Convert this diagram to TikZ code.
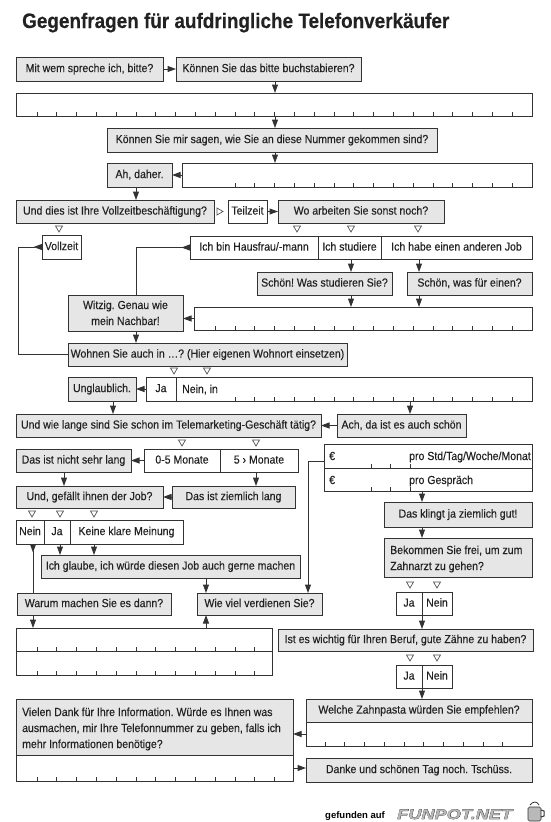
\documentclass[tikz,border=0pt]{standalone}
\usepackage{fontspec}
\setmainfont{Liberation Sans}[FakeStretch=0.9,FakeBold=0.3]
\newfontfamily\footfont{Liberation Sans}
\newfontfamily\funfont{Liberation Sans}[FakeStretch=1.3]
\newfontfamily\funfontB{Liberation Sans}[FakeStretch=1.3,FakeBold=2.2]
\frenchspacing
\usetikzlibrary{arrows.meta,calc}
\definecolor{lc}{HTML}{333333}
\definecolor{gf}{HTML}{E6E6E6}
\definecolor{tc}{HTML}{222222}
\tikzset{
 base/.style={draw=lc, line width=1pt, inner sep=0pt, outer sep=0pt, text=tc, font=\fontsize{11.7}{15.5}\selectfont, text height=8.4pt, text depth=2.2pt, anchor=center},
 gb/.style={base, fill=gf},
 wb/.style={base, fill=white},
 ib/.style={base, fill=white},
 txt/.style={inner sep=0pt, text=tc, font=\fontsize{11.7}{15.5}\selectfont},
 arr/.style={draw=lc, line width=1pt, -{Triangle[length=8.5pt,width=6pt]}},
 rarr/.style={draw=lc, line width=1pt, {Triangle[reversed,length=8.5pt,width=6pt]}-},
 otri/.style={draw=lc!85, line width=0.7pt, fill=white},
 tick/.style={draw=lc, line width=0.8pt},
}
\newcommand\bx[7]{\node[#6, minimum width={(#4)-(#2)}, minimum height={(#5)-(#3)}] (#1) at ({((#2)+(#4))/2},{((#3)+(#5))/2}) {#7};}
\newcommand\tk[5]{\foreach \k in {#4,...,#5}{\draw[tick] ({#2+#3*\k},#1) -- ({#2+#3*\k},{#1-4});}}
\newcommand\dtri[2]{\draw[otri] ({#1-3.5},{#2-3}) -- ({#1+3.5},{#2-3}) -- ({#1},{#2+3}) -- cycle;}
\newcommand\rtri[2]{\draw[otri] ({#1-3},{#2-3.5}) -- ({#1-3},{#2+3.5}) -- ({#1+3},{#2}) -- cycle;}
\begin{document}
\begin{tikzpicture}[x=1pt,y=-1pt]
\useasboundingbox (0,0) rectangle (550,822);
\fill[white] (0,0) rectangle (550,822);
\foreach \c in {18,33,60,64,94,113,136,206,256,275,308,351,410,419,422} {\coordinate (c\c) at (\c,0);}

\node[anchor=base west, inner sep=0pt, text=tc, font=\bfseries\fontsize{21}{24}\selectfont] (title) at (22,28) {Gegenfragen für aufdringliche Telefonverkäufer};

\bx{A}{16}{57}{163}{81}{gb}{Mit wem spreche ich, bitte?}
\bx{B}{176}{57}{361}{81}{gb}{Können Sie das bitte buchstabieren?}
\bx{I1}{16}{93}{532}{116}{ib}{}
\bx{C}{107}{128}{437}{152}{gb}{Können Sie mir sagen, wie Sie an diese Nummer gekommen sind?}
\bx{D}{107}{163}{172}{187}{gb}{Ah, daher.}
\bx{I2}{182}{163}{532}{187}{ib}{}
\bx{E}{16}{200}{214}{223}{gb}{Und dies ist Ihre Vollzeitbeschäftigung?}
\bx{F}{228}{200}{267}{223}{wb}{Teilzeit}
\bx{G}{278}{200}{444}{223}{gb}{Wo arbeiten Sie sonst noch?}
\bx{H}{42}{235}{81}{259}{wb}{Vollzeit}
\bx{O1}{190}{236}{318}{259}{wb}{Ich bin Hausfrau/-mann}
\bx{O2}{318}{236}{381}{259}{wb}{Ich studiere}
\bx{O3}{381}{236}{532}{259}{wb}{Ich habe einen anderen Job}
\bx{S1}{257}{272}{392}{295}{gb}{Schön! Was studieren Sie?}
\bx{S2}{407}{272}{532}{295}{gb}{Schön, was für einen?}
\bx{W}{68}{295}{183}{331}{gb}{}
\node[txt, anchor=base] (Wt1) at (125.5,309) {Witzig. Genau wie};
\node[txt, anchor=base] (Wt2) at (125.5,325) {mein Nachbar!};
\bx{I3}{194}{307}{532}{330}{ib}{}
\bx{Wo}{68}{343}{347}{366}{gb}{Wohnen Sie auch in …? (Hier eigenen Wohnort einsetzen)}
\bx{U}{68}{377}{136}{401}{gb}{Unglaublich.}
\bx{J1}{146}{377}{176}{401}{wb}{Ja}
\bx{N1}{176}{377}{532}{401}{ib}{}
\node[txt, anchor=base west] (N1t) at (182,393) {Nein, in};
\bx{L}{16}{414}{321}{437}{gb}{Und wie lange sind Sie schon im Telemarketing-Geschäft tätig?}
\bx{Ach}{337}{414}{466}{437}{gb}{Ach, da ist es auch schön}
\bx{Ns}{16}{449}{131}{472}{gb}{Das ist nicht sehr lang}
\bx{M1}{144}{449}{220}{472}{wb}{0-5 Monate}
\bx{M2}{220}{449}{298}{472}{wb}{5 › Monate}
\bx{Gf}{16}{486}{163}{508}{gb}{Und, gefällt ihnen der Job?}
\bx{Zl}{172}{486}{295}{508}{gb}{Das ist ziemlich lang}
\bx{Nn}{16}{520}{44}{544}{wb}{Nein}
\bx{Jj}{44}{520}{70}{544}{wb}{Ja}
\bx{Kk}{70}{520}{183}{544}{wb}{Keine klare Meinung}
\bx{Ig}{41}{555}{300}{578}{gb}{Ich glaube, ich würde diesen Job auch gerne machen}
\bx{Wa}{17}{593}{171}{615}{gb}{Warum machen Sie es dann?}
\bx{Wv}{197}{593}{322}{615}{gb}{Wie viel verdienen Sie?}
\bx{E1}{324}{444}{532}{468}{wb}{}
\bx{E2}{324}{468}{532}{491}{wb}{}
\node[txt, anchor=base west] (E1a) at (329,460) {€};
\node[txt, anchor=base west] (E1b) at (409,460) {pro Std/Tag/Woche/Monat};
\node[txt, anchor=base west] (E2a) at (329,484) {€};
\node[txt, anchor=base west] (E2b) at (409,484) {pro Gespräch};
\bx{Kg}{384}{502}{532}{527}{gb}{Das klingt ja ziemlich gut!}
\bx{Bk}{384}{538}{532}{577}{gb}{}
\node[txt, anchor=base west] (Bk1) at (390,554) {Bekommen Sie frei, um zum};
\node[txt, anchor=base west] (Bk2) at (390,570) {Zahnarzt zu gehen?};
\bx{Ja2}{396}{592}{422}{615}{wb}{Ja}
\bx{Ne2}{422}{592}{452}{615}{wb}{Nein}
\bx{Iw}{278}{629}{533}{651}{gb}{Ist es wichtig für Ihren Beruf, gute Zähne zu haben?}
\bx{Ja3}{396}{665}{422}{688}{wb}{Ja}
\bx{Ne3}{422}{665}{452}{688}{wb}{Nein}
\bx{I5a}{16}{628}{272}{651}{ib}{}
\bx{I5b}{16}{651}{272}{675}{ib}{}
\bx{Zp}{306}{699}{532}{722}{gb}{Welche Zahnpasta würden Sie empfehlen?}
\bx{Zpi}{306}{722}{532}{746}{ib}{}
\bx{Vd}{16}{699}{293}{755}{gb}{}
\node[txt, anchor=base west] (Vd1) at (22,716) {Vielen Dank für Ihre Information. Würde es Ihnen was};
\node[txt, anchor=base west] (Vd2) at (22,732) {ausmachen, mir Ihre Telefonnummer zu geben, falls ich};
\node[txt, anchor=base west] (Vd3) at (22,748) {mehr Informationen benötige?};
\bx{Vdi}{16}{755}{293}{781}{ib}{}
\bx{Dk}{306}{758}{532}{782}{gb}{Danke und schönen Tag noch. Tschüss.}

% ticks
\tk{116}{37}{19.8}{0}{24}
\tk{187}{37}{19.8}{10}{24}
\tk{330}{37}{19.8}{9}{24}
\tk{401}{37}{19.8}{10}{24}
\tk{651}{37}{19.8}{0}{11}
\tk{675}{37}{19.8}{0}{11}
\tk{781}{37}{19.8}{0}{12}
\tk{746}{325}{19.75}{0}{9}
\tk{468}{371}{19.5}{0}{2}
\tk{491}{371}{19.5}{0}{2}

% open triangles
\dtri{59}{229}
\rtri{220}{211.5}
\dtri{297}{229}\dtri{351}{229}\dtri{418}{229}
\dtri{174}{371}\dtri{207}{371}
\dtri{182}{443}\dtri{256}{443}
\dtri{32}{514}\dtri{60}{514}\dtri{94}{514}
\dtri{410}{585}\dtri{437}{585}
\dtri{410}{658}\dtri{437}{658}

% connectors
\draw[arr] (A.east) -- (B.west);
\draw[arr] (B.south -| c275) -- (I1.north -| c275);
\draw[arr] (I1.south -| c275) -- (C.north -| c275);
\draw[arr] (C.south -| c275) -- (I2.north -| c275);
\draw[arr] (I2.west) -- (D.east);
\draw[arr] (D.south -| c136) -- (E.north -| c136);
\draw[arr] (F.east) -- (G.west);
\draw[rarr] (H.west) -- (H.west -| c18) -- (Wo.west -| c18) -- (Wo.west);
\draw[rarr] (O1.west) -- (O1.west -| c136) -- (W.north -| c136);
\draw[arr] (O2.south -| c351) -- (S1.north -| c351);
\draw[arr] (O3.south -| c419) -- (S2.north -| c419);
\draw[arr] (S1.south -| c351) -- (I3.north -| c351);
\draw[arr] (S2.south -| c419) -- (I3.north -| c419);
\draw[arr] (I3.west) -- (I3.west -| W.east);
\draw[arr] (W.south -| c136) -- (Wo.north -| c136);
\draw[arr] (J1.west) -- (U.east);
\draw[arr] (U.south -| c113) -- (L.north -| c113);
\draw[arr] (N1.south -| c410) -- (Ach.north -| c410);
\draw[arr] (Ach.west) -- (L.east);
\draw[arr] (M1.west) -- (Ns.east);
\draw[arr] (Ns.south -| c64) -- (Gf.north -| c64);
\draw[arr] (M2.south -| c256) -- (Zl.north -| c256);
\draw[arr] (Zl.west) -- (Gf.east);
\draw[arr] (Jj.south -| c60) -- (Ig.north -| c60);
\draw[arr] (Kk.south -| c94) -- (Ig.north -| c94);
\draw[rarr] (Nn.south -| c33) -- (Wa.north -| c33);
\draw[arr] (Ig.south -| c206) -- (Wv.north -| c206);
\draw[arr] (Wa.south -| c33) -- (I5a.north -| c33);
\draw[arr] (I5a.north -| c206) -- (Wv.south -| c206);
\draw[arr] ([yshift=-5pt]E1.west) -- ([yshift=-5pt]E1.west -| c308) -- (Wv.north -| c308);
\draw[arr] (E2.south -| c422) -- (Kg.north -| c422);
\draw[arr] (Kg.south -| c422) -- (Bk.north -| c422);
\draw[arr] (Ja2.south east) -- (Iw.north -| Ja2.south east);
\draw[arr] (Ja3.south east) -- (Zp.north -| Ja3.south east);
\draw[arr] (Zpi.west) -- (Zpi.west -| Vd.east);
\draw[arr] (Vdi.east) -- (Vdi.east -| Dk.west);

% footer
\node[anchor=base west, inner sep=0pt, font=\footfont\bfseries\fontsize{9.5}{11}\selectfont] (gef) at (325,818) {gefunden auf};
\node[anchor=base west, inner sep=0pt, text=gray!35!black, font=\funfontB\bfseries\itshape\fontsize{14}{14}\selectfont] (funB) at (397,819) {FUNPOT.NET};
\node[anchor=base west, inner sep=0pt, text=gray!55, font=\funfont\bfseries\itshape\fontsize{14}{14}\selectfont] (fun) at (397,819) {FUNPOT.NET};
\filldraw[fill=gray!55, draw=gray!40!black, line width=0.6pt, rounded corners=1.5pt] (528,807) rectangle (541,821);
\draw[gray!40!black, line width=1pt] (541,810) -- (544,811) -- (544,816) -- (541,817);
\draw[gray!40!black, line width=0.8pt] (530,805) .. controls (533,801) and (537,801) .. (539,805);
\end{tikzpicture}
\end{document}
